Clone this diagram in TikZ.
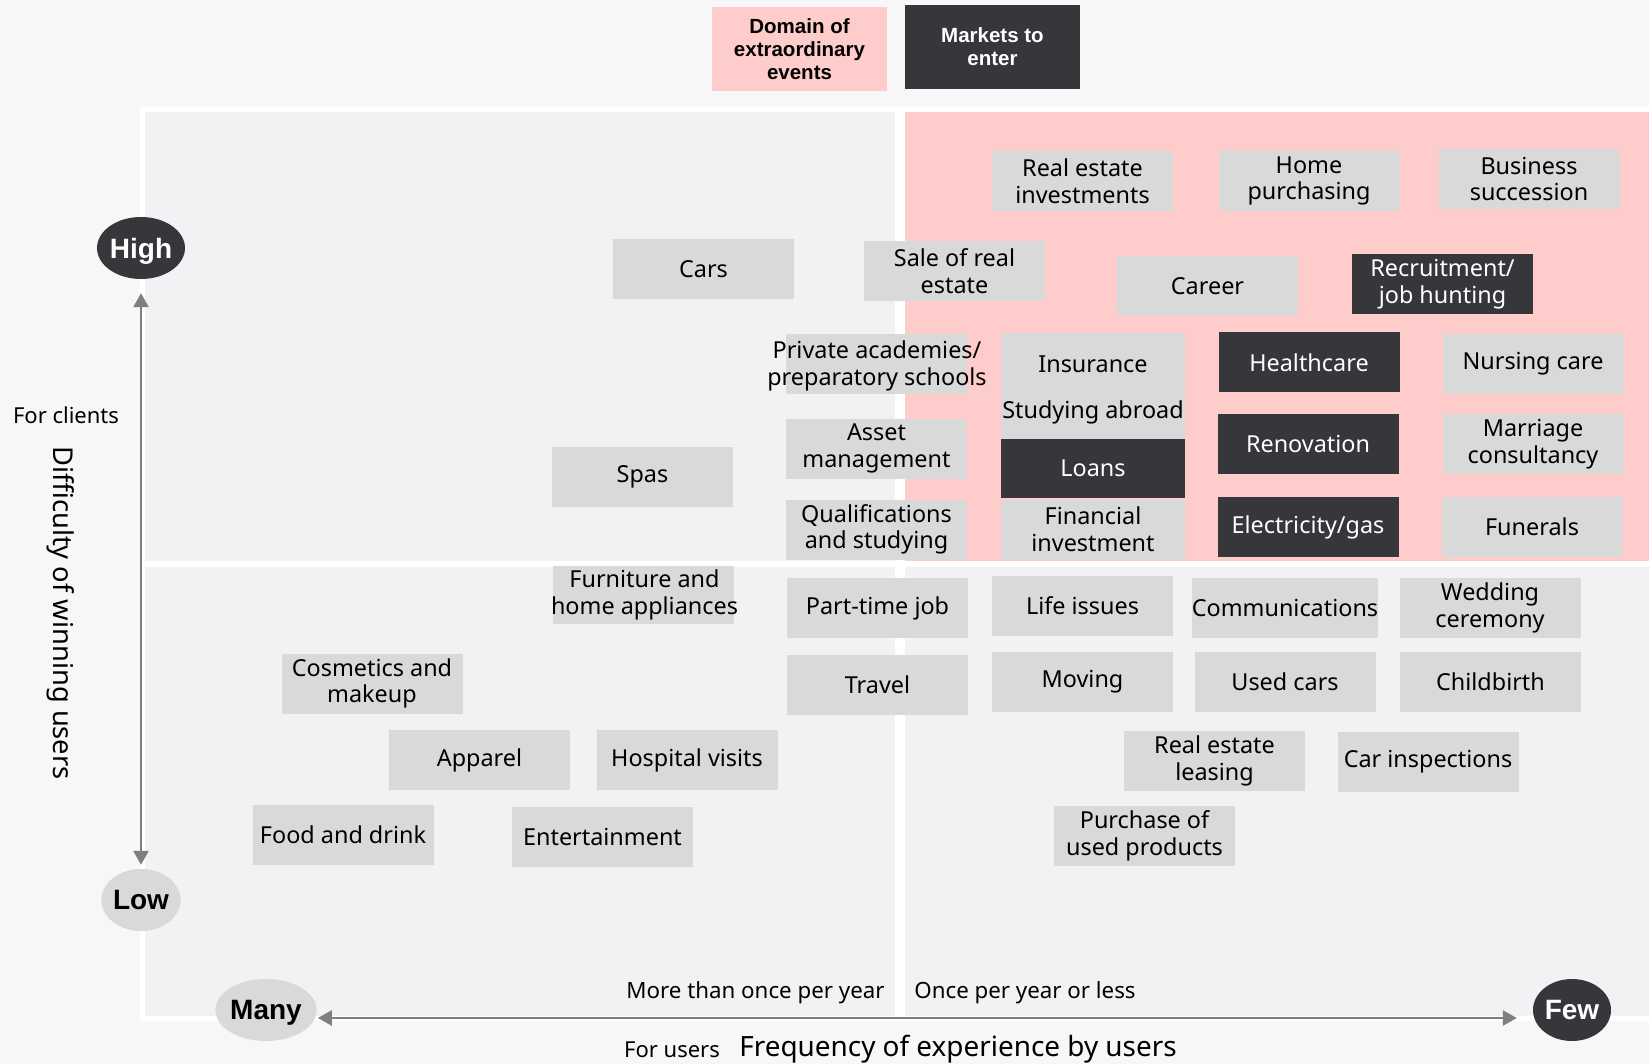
\documentclass[tikz,border=0pt]{standalone}
\usepackage{fontspec}
\setmainfont{Noto Sans}
\newfontfamily\headfont{Liberation Sans}
\usetikzlibrary{shapes.geometric,arrows.meta}

\definecolor{bgcol}{HTML}{F7F7F7}
\definecolor{panelgrey}{HTML}{F2F2F4}
\definecolor{extrapink}{HTML}{FFCCCC}
\definecolor{boxgrey}{HTML}{D9D9D9}
\definecolor{darkbox}{HTML}{36363B}
\definecolor{arrowgrey}{HTML}{7F7F7F}

\tikzset{
  box/.style={fill=boxgrey, minimum width=181pt, minimum height=60pt, inner sep=0pt,
    align=center, font=\fontsize{23.4}{26.7}\selectfont},
  market/.style={box, fill=darkbox, text=white},
  boxtext/.style={inner sep=0pt, align=center, font=\fontsize{23.4}{26.7}\selectfont},
  legend/.style={minimum width=175pt, minimum height=84pt, inner sep=0pt, align=center,
    font=\headfont\bfseries\fontsize{20.5}{22.7}\selectfont},
  level/.style={ellipse, minimum width=78pt, minimum height=62pt, inner sep=0pt, text depth=0pt,
    font=\headfont\bfseries\fontsize{28}{30}\selectfont},
  axisnote/.style={font=\fontsize{22.3}{25}\selectfont},
  axisarrow/.style={draw=arrowgrey, line width=2.5pt, {Triangle[width=15pt,length=14pt]}-{Triangle[width=15pt,length=14pt]}}
}

\begin{document}
\begin{tikzpicture}[x=1pt, y=-1pt]
\fill[bgcol] (0,0) rectangle (1649,1064);
\useasboundingbox (0,0) rectangle (1649,1064);

\fill[white] (140,107) rectangle (1649,1021);
\fill[panelgrey] (145,112) rectangle (895,561);
\fill[panelgrey] (145,567) rectangle (895,1016);
\fill[extrapink] (905,112) rectangle (1649,561);
\fill[panelgrey] (905,567) rectangle (1649,1016);

\node[legend, fill=extrapink] (domain) at (799.5,49) {Domain of\\extraordinary\\events};
\node[legend, fill=darkbox, text=white] (markets) at (992.5,47) {Markets to\\enter};

\node[box] (reinv) at (1082.5,181) {Real estate\\investments};
\node[box] (homep) at (1309,181) {Home\\purchasing};
\node[box] (bizsucc) at (1529,179) {Business\\succession};
\node[box] (cars) at (703.5,269) {Cars};
\node[box] (salere) at (954.5,271.5) {Sale of real\\estate};
\node[box] (career) at (1207.5,286) {Career};
\node[market] (recruit) at (1442.5,284.5) {Recruitment/\\job hunting};

\node[box] (privbox) at (876,364.5) {};
\node[boxtext] (priv) at (877,366) {Private academies/\\preparatory schools};
\node[box, minimum width=184pt, minimum height=62pt] (insur) at (1093,364.5) {Insurance};
\node[box, minimum width=184pt] (abroad) at (1093,412) {Studying abroad};
\node[market, minimum width=184pt, minimum height=59pt] (loans) at (1093,468.5) {Loans};
\node[box] (asset) at (876.5,448.5) {Asset\\management};
\node[box] (qualif) at (876.5,529.5) {Qualifications\\and studying};
\node[box, minimum width=184pt] (fininv) at (1093,529.5) {Financial\\investment};
\node[market] (health) at (1309,362.5) {Healthcare};
\node[box] (nursing) at (1533,364) {Nursing care};
\node[market] (renov) at (1308,444) {Renovation};
\node[box] (marriage) at (1533,444) {Marriage\\consultancy};
\node[box] (spas) at (642.5,477) {Spas};
\node[market] (elec) at (1308,527) {Electricity/gas};
\node[box] (funerals) at (1532,527) {Funerals};

\node[box, minimum height=58pt] (furnbox) at (643.5,595) {};
\node[boxtext] (furn) at (644.5,595) {Furniture and\\home appliances};
\node[box] (parttime) at (877.5,608) {Part-time job};
\node[box] (life) at (1082.5,606) {Life issues};
\node[box] (comm) at (1285,608) {Communications};
\node[box] (wedding) at (1490,608) {Wedding\\ceremony};
\node[box] (cosm) at (372,683.5) {Cosmetics and\\makeup};
\node[box] (travel) at (877.5,684.5) {Travel};
\node[box] (moving) at (1082.5,682) {Moving};
\node[box] (usedcars) at (1285,682) {Used cars};
\node[box] (childbirth) at (1490.5,682) {Childbirth};
\node[box] (apparel) at (479.5,760) {Apparel};
\node[box] (hospital) at (687,760) {Hospital visits};
\node[box] (releasing) at (1214.5,761) {Real estate\\leasing};
\node[box] (carinsp) at (1428,762) {Car inspections};
\node[box] (food) at (343,834.5) {Food and drink};
\node[box] (entert) at (602.5,836.5) {Entertainment};
\node[box] (usedprod) at (1144.5,836) {Purchase of\\used products};

\node[level, fill=darkbox, text=white] (high) at (141,248) {High};
\node[level, fill=boxgrey] (low) at (141,900) {Low};
\node[level, fill=boxgrey] (many) at (266,1010) {Many};
\node[level, fill=darkbox, text=white] (few) at (1572,1010) {Few};

\draw[axisarrow, shorten <=14pt, shorten >=4pt] (high) -- (low);
\draw[axisarrow, shorten <=1pt, shorten >=16pt] ([yshift=-8pt]many.east) -- ([yshift=-8pt]few.west);

\node[font=\fontsize{22}{25}\selectfont] (clients) at (66,415) {For clients};
\node[rotate=-90, font=\fontsize{27.3}{30}\selectfont] (difficulty) at (61,613) {Difficulty of winning users};
\node[axisnote] (often) at (755.5,993) {More than once per year};
\node[axisnote] (seldom) at (1025,993) {Once per year or less};
\node[font=\fontsize{22}{25}\selectfont] (users) at (672,1050) {For users};
\node[font=\fontsize{27.9}{31}\selectfont] (frequency) at (958,1049) {Frequency of experience by users};
\end{tikzpicture}
\end{document}
